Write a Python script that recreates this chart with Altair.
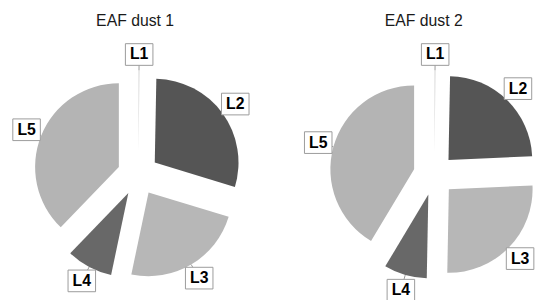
import altair as alt
import pandas as pd

# ---- data ----
labels = ["L1", "L2", "L3", "L4", "L5"]
dust1 = [0.3, 29.4, 23.6, 8.9, 37.8]
dust2 = [0.3, 24.0, 26.0, 8.3, 41.4]
titles = ["EAF dust 1", "EAF dust 2"]
colors = ["#e4e4e4", "#555555", "#b7b7b7", "#686868", "#b4b4b4"]

rows = []
for t, vals in zip(titles, [dust1, dust2]):
    for i, (lab, v) in enumerate(zip(labels, vals)):
        rows.append({"panel": t, "label": lab, "value": v, "order": i})
df = pd.DataFrame(rows)

# ---- layout constants ----
R = 85      # pie radius
D = 21      # explode distance
RL = 122    # label distance
CX1, CX2, CY = 132, 432.5, 167
W, H = 536, 292

base = (
    alt.Chart(df)
    .transform_joinaggregate(total="sum(value)", groupby=["panel"])
    .transform_window(cum="sum(value)", groupby=["panel"],
                      sort=[alt.SortField("order")], frame=[None, 0])
    .transform_calculate(a1="2*PI*datum.cum/datum.total")
    .transform_calculate(a0="2*PI*(datum.cum-datum.value)/datum.total")
    .transform_calculate(mid="(datum.a0+datum.a1)/2")
    .transform_calculate(ox=f"datum.panel=='{titles[0]}' ? {CX1} : {CX2}")
    .transform_calculate(cx=f"datum.ox+{D}*sin(datum.mid)")
    .transform_calculate(cy=f"{CY}-{D}*cos(datum.mid)")
    .transform_calculate(ex=f"datum.ox+{D+R}*sin(datum.mid)")
    .transform_calculate(ey=f"{CY}-{D+R}*cos(datum.mid)")
    .transform_calculate(bx=f"datum.ox+{RL}*sin(datum.mid)")
    .transform_calculate(by=f"{CY}-{RL}*cos(datum.mid)")
)

arcs = base.mark_arc(outerRadius=R, innerRadius=0).encode(
    x=alt.X("cx:Q", scale=None, axis=None),
    y=alt.Y("cy:Q", scale=None, axis=None),
    theta=alt.Theta("a0:Q", scale=None, stack=None),
    theta2=alt.Theta2("a1:Q"),
    color=alt.Color("label:N", scale=alt.Scale(domain=labels, range=colors), legend=None),
)

leaders = base.mark_rule(color="#9a9a9a", strokeWidth=1).encode(
    x=alt.X("ex:Q", scale=None, axis=None),
    y=alt.Y("ey:Q", scale=None, axis=None),
    x2="bx:Q",
    y2="by:Q",
)

box_path = "M-1.27,-1L1.27,-1L1.27,1L-1.27,1Z"
boxes = base.mark_point(shape=box_path, size=484, filled=True, fill="white",
                        stroke="#9a9a9a", strokeWidth=1, opacity=1).encode(
    x=alt.X("bx:Q", scale=None, axis=None),
    y=alt.Y("by:Q", scale=None, axis=None),
)

texts = base.mark_text(font="Liberation Sans", fontSize=16, fontWeight="bold",
                       align="center", baseline="middle", color="#000000").encode(
    x=alt.X("bx:Q", scale=None, axis=None),
    y=alt.Y("by:Q", scale=None, axis=None),
    text="label:N",
)

title_df = pd.DataFrame({"title": titles})
title_text = (
    alt.Chart(title_df)
    .transform_calculate(tx=f"datum.title=='{titles[0]}' ? 129 : 422")
    .mark_text(font="Liberation Sans", fontSize=16, align="center",
               baseline="alphabetic", color="#1a1a1a")
    .encode(
        x=alt.X("tx:Q", scale=None, axis=None),
        y=alt.value(16),
        text="title:N",
    )
)

chart = (
    alt.layer(arcs, leaders, boxes, texts, title_text)
    .properties(width=W, height=H, autosize="none", padding=0)
    .configure_view(stroke=None)
)

chart.save("out.html", embed_options={"renderer": "svg", "actions": False})
